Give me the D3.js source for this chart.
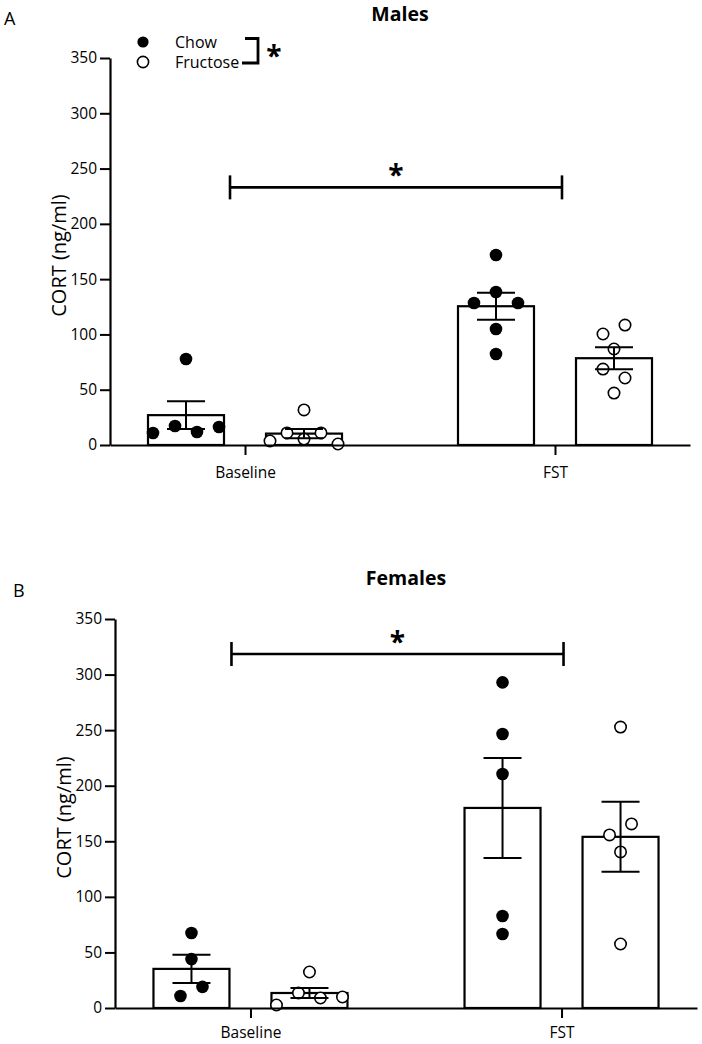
<!DOCTYPE html>
<html>
<head>
<meta charset="utf-8">
<script src="https://cdn.jsdelivr.net/npm/d3@7"></script>
<style>
  html, body { margin: 0; padding: 0; background: #fff; }
  svg { display: block; }
  text { font-family: "Open Sans", "Noto Sans", sans-serif; fill: #000; }
</style>
</head>
<body>
<svg id="chart" width="702" height="1044"></svg>
<script>
// ---------------- DATA ----------------
const groups = ["Baseline", "FST"];
const diets = ["Chow", "Fructose"];
const yTicks = [0, 50, 100, 150, 200, 250, 300, 350];
const yLabel = "CORT (ng/ml)";

// Males (panel A): individual values per group (Baseline, FST)
const malesChowBaseline = [10.9, 17.2, 77.8, 11.8, 16.3];
const malesFructoseBaseline = [3.6, 10.9, 5.4, 31.7, 10.9, 0.9];
const malesChowFST = [171.8, 128.4, 138.4, 128.4, 104.9, 82.3];
const malesFructoseFST = [100.4, 108.5, 86.8, 68.7, 60.6, 47.0];
const malesChowMean = [27.0, 125.5];
const malesChowSEM = [12.6, 12.3];
const malesFructoseMean = [10.3, 78.5];
const malesFructoseSEM = [4.2, 10.0];

// Females (panel B)
const femalesChowBaseline = [67.5, 44.0, 10.8, 19.0];
const femalesFructoseBaseline = [2.7, 13.5, 32.4, 9.0, 9.9];
const femalesChowFST = [293.0, 246.5, 210.5, 82.8, 66.6];
const femalesFructoseFST = [252.8, 155.7, 165.6, 140.4, 57.6];
const femalesChowMean = [35.2, 180.0];
const femalesChowSEM = [12.6, 45.0];
const femalesFructoseMean = [13.5, 154.0];
const femalesFructoseSEM = [4.5, 31.5];

// ---------------- LAYOUT ----------------
const svg = d3.select("#chart");
svg.append("rect").attr("width", 702).attr("height", 1044).attr("fill", "#fff");

const panels = [
  {
    letter: "A", letterX: 4, letterY: 25,
    title: "Males", titleY: 21,
    left: 110, right: 690, top: 58, bottom: 445, xPad: 12,
    points: { Chow: [malesChowBaseline, malesChowFST], Fructose: [malesFructoseBaseline, malesFructoseFST] },
    mean: { Chow: malesChowMean, Fructose: malesFructoseMean },
    sem: { Chow: malesChowSEM, Fructose: malesFructoseSEM },
    sigValue: 233, sigL: -15, sigR: 7,
    legend: true
  },
  {
    letter: "B", letterX: 13, letterY: 597,
    title: "Females", titleY: 585,
    left: 115, right: 697, top: 619, bottom: 1008, xPad: 9,
    points: { Chow: [femalesChowBaseline, femalesChowFST], Fructose: [femalesFructoseBaseline, femalesFructoseFST] },
    mean: { Chow: femalesChowMean, Fructose: femalesFructoseMean },
    sem: { Chow: femalesChowSEM, Fructose: femalesFructoseSEM },
    sigValue: 318.5, sigL: -19, sigR: 2,
    legend: false
  }
];

const R = 6.3;

function dodge(values, y) {
  // group points whose vertical positions are close into rows, spread them horizontally
  const idx = values.map((v, i) => i).sort((a, b) => y(values[a]) > y(values[b]) ? -1 : 1);
  const offsets = new Array(values.length).fill(0);
  let bins = [];
  let cur = null;
  idx.forEach(i => {
    const py = y(values[i]);
    if (cur && Math.abs(py - cur.start) <= 13) cur.members.push(i);
    else { cur = { start: py, members: [i] }; bins.push(cur); }
  });
  bins.forEach(b => {
    const m = b.members.sort((a, c) => a - c);
    const n = m.length;
    const sp = n > 1 ? Math.min(22, 68 / (n - 1)) : 0;
    m.forEach((i, k) => { offsets[i] = (k - (n - 1) / 2) * sp; });
  });
  return offsets;
}

panels.forEach(p => {
  const g = svg.append("g");
  const y = d3.scaleLinear().domain([0, 350]).range([p.bottom, p.top]);
  const x0 = d3.scalePoint().domain(groups).range([p.left, p.right]).padding(0.4355);
  const x1 = d3.scaleBand().domain(diets).range([-97, 97]).paddingInner(0.356);
  const bw = x1.bandwidth();

  // panel letter & title
  g.append("text").attr("x", p.letterX).attr("y", p.letterY)
    .style("font-size", "18px").text(p.letter);
  g.append("text").attr("x", (p.left + p.right) / 2).attr("y", p.titleY)
    .attr("text-anchor", "middle").style("font-size", "19.5px").style("font-weight", "bold")
    .text(p.title);

  // bars
  diets.forEach(d => {
    groups.forEach((grp, gi) => {
      const cx = x0(grp) + x1(d) + bw / 2;
      const m = p.mean[d][gi];
      g.append("rect")
        .attr("x", cx - bw / 2).attr("y", y(m))
        .attr("width", bw).attr("height", y(0) - y(m))
        .attr("fill", "#fff").attr("stroke", "#000").attr("stroke-width", 2.2);
    });
  });

  // points
  diets.forEach(d => {
    groups.forEach((grp, gi) => {
      const cx = x0(grp) + x1(d) + bw / 2;
      const vals = p.points[d][gi];
      const off = dodge(vals, y);
      g.selectAll(null).data(vals).enter().append("circle")
        .attr("cx", (v, i) => cx + off[i]).attr("cy", v => y(v))
        .attr("r", d === "Chow" ? R : R - 0.6)
        .attr("fill", d === "Chow" ? "#000" : "#fff")
        .attr("stroke", "#000").attr("stroke-width", d === "Chow" ? 0 : 1.6);
    });
  });

  // error bars (mean ± SEM)
  diets.forEach(d => {
    groups.forEach((grp, gi) => {
      const cx = x0(grp) + x1(d) + bw / 2;
      const m = p.mean[d][gi], s = p.sem[d][gi];
      const eg = g.append("g").attr("stroke", "#000").attr("stroke-width", 2);
      eg.append("line").attr("x1", cx).attr("x2", cx).attr("y1", y(m - s)).attr("y2", y(m + s));
      [m - s, m + s].forEach(v => {
        eg.append("line").attr("x1", cx - 19).attr("x2", cx + 19).attr("y1", y(v)).attr("y2", y(v));
      });
    });
  });

  // y axis
  const ya = g.append("g").attr("transform", `translate(${p.left},0)`)
    .call(d3.axisLeft(y).tickValues(yTicks).tickSize(10).tickSizeOuter(0).tickPadding(3));
  ya.select(".domain").attr("stroke-width", 2.2);
  ya.selectAll(".tick line").attr("stroke-width", 2);
  ya.selectAll(".tick text").style("font-size", "15.5px").style("font-family", "'Open Sans', sans-serif");

  // x axis
  const xa = g.append("g").attr("transform", `translate(0,${p.bottom})`)
    .call(d3.axisBottom(x0).tickSize(10).tickSizeOuter(0).tickPadding(p.xPad));
  xa.select(".domain").attr("stroke-width", 2.2);
  xa.selectAll(".tick line").attr("stroke-width", 2);
  xa.selectAll(".tick text").style("font-size", "15.5px").style("font-family", "'Open Sans', sans-serif");

  // y label
  g.append("text")
    .attr("transform", `translate(${p.left - 52},${(p.top + p.bottom) / 2 + 4}) rotate(-90)`)
    .attr("text-anchor", "middle").attr("dominant-baseline", "central")
    .style("font-size", "20px").text(yLabel);

  // significance bracket between groups
  const sy = y(p.sigValue);
  const sx1 = x0(groups[0]) + p.sigL, sx2 = x0(groups[1]) + p.sigR;
  const sg = g.append("g").attr("stroke", "#000").attr("stroke-width", 2.6);
  sg.append("line").attr("x1", sx1).attr("x2", sx2).attr("y1", sy).attr("y2", sy);
  sg.append("line").attr("x1", sx1).attr("x2", sx1).attr("y1", sy - 12).attr("y2", sy + 12);
  sg.append("line").attr("x1", sx2).attr("x2", sx2).attr("y1", sy - 12).attr("y2", sy + 12);
  g.append("text").attr("x", (sx1 + sx2) / 2).attr("y", sy - 2)
    .attr("text-anchor", "middle").style("font-size", "28px").style("font-weight", "bold").text("*");

  // legend
  if (p.legend) {
    const lg = g.append("g");
    const items = [{ name: diets[0], cy: 42 }, { name: diets[1], cy: 62 }];
    items.forEach(it => {
      lg.append("circle").attr("cx", 143).attr("cy", it.cy).attr("r", 5.6)
        .attr("fill", it.name === "Chow" ? "#000" : "#fff")
        .attr("stroke", "#000").attr("stroke-width", it.name === "Chow" ? 0 : 1.6);
      lg.append("text").attr("x", 175).attr("y", it.cy + 5.5)
        .style("font-size", "16px").text(it.name);
    });
    lg.append("path").attr("d", "M245,38.5H258V63H242")
      .attr("fill", "none").attr("stroke", "#000").attr("stroke-width", 2.8);
    lg.append("text").attr("x", 274).attr("y", 66)
      .attr("text-anchor", "middle").style("font-size", "28px").style("font-weight", "bold").text("*");
  }
});
</script>
</body>
</html>
